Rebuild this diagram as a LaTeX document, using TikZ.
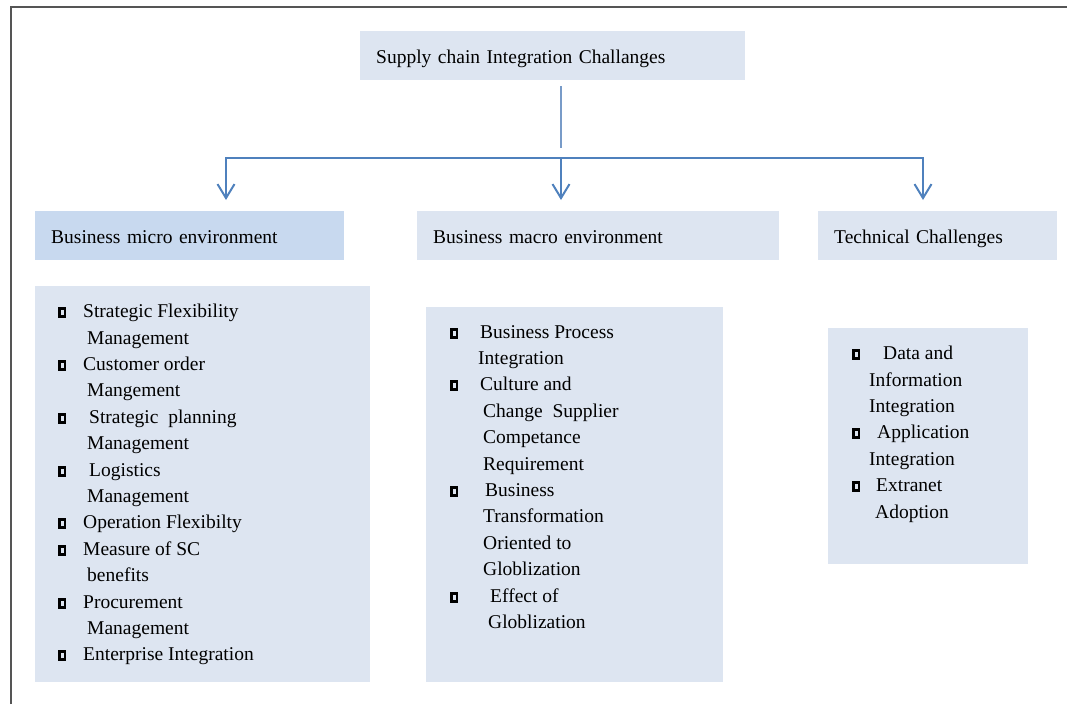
\documentclass[tikz,border=0pt]{standalone}
\usepackage{fontspec}
\setmainfont{Liberation Serif}
\usetikzlibrary{arrows.meta}
\definecolor{boxfill}{RGB}{221,229,241}
\definecolor{microfill}{RGB}{200,217,239}
\definecolor{linecol}{RGB}{79,129,189}
\definecolor{toplinecol}{RGB}{120,155,200}
\definecolor{framecol}{RGB}{85,85,85}
\newcommand{\sqb}{\makebox[0pt][l]{\rule[-0.5pt]{8pt}{11pt}}\hspace{2.6pt}{\color{boxfill}\rule[2.5pt]{2.8pt}{5pt}}\hspace{2.6pt}}
\newcommand{\bl}[2]{\makebox[#1pt][l]{\sqb}#2}
\newcommand{\cl}[2]{\hspace*{#1pt}#2}
\begin{document}
\begin{tikzpicture}[x=1pt,y=-1pt,
  hbox/.style={fill=boxfill, draw=none, anchor=north west, minimum height=49pt,
    inner xsep=16pt, inner ysep=0pt, align=left, text height=16.5pt, text depth=1.5pt,
    font=\fontsize{19.5}{23}\selectfont},
  listbox/.style={fill=boxfill, draw=none, anchor=north west, inner sep=0pt},
  listtext/.style={anchor=north west, inner sep=0pt, align=left,
    font=\fontsize{19.5}{26.4}\selectfont},
  conn/.style={draw=linecol, line width=2pt},
  arr/.style={conn, -{Straight Barb[length=14pt,width=17pt,line width=2pt]}, shorten >=11pt},
  topconn/.style={draw=toplinecol, line width=1.5pt},
  frame/.style={draw=framecol, line width=1.5pt}
]
\useasboundingbox (0,0) rectangle (1067,704);
\draw[frame] (11,704) -- (11,7) -- (1067,7);

\node[hbox, text width=353pt] (top) at (360,31) {Supply chain Integration Challanges};
\node[hbox, fill=microfill, text width=277pt] (micro) at (35,211) {Business micro environment};
\node[hbox, text width=330pt] (macro) at (417,211) {Business macro environment};
\node[hbox, text width=207pt] (tech) at (818,211) {Technical Challenges};

\node[listbox, minimum width=335pt, minimum height=396pt] (microbox) at (35,286) {};
\node[listbox, minimum width=297pt, minimum height=375pt] (macrobox) at (426,307) {};
\node[listbox, minimum width=200pt, minimum height=236pt] (techbox) at (828,328) {};

\node[listtext] (microlist) at (58,304) {%
\bl{25}{Strategic Flexibility}\\
\cl{29}{Management}\\
\bl{25}{Customer order}\\
\cl{29}{Mangement}\\
\bl{31}{Strategic\ \ planning}\\
\cl{29}{Management}\\
\bl{31}{Logistics}\\
\cl{29}{Management}\\
\bl{25}{Operation Flexibilty}\\
\bl{25}{Measure of SC}\\
\cl{29}{benefits}\\
\bl{25}{Procurement}\\
\cl{29}{Management}\\
\bl{25}{Enterprise Integration}};

\node[listtext] (macrolist) at (450,325) {%
\bl{30}{Business Process}\\
\cl{28}{Integration}\\
\bl{30}{Culture and}\\
\cl{33}{Change\ \ Supplier}\\
\cl{33}{Competance}\\
\cl{33}{Requirement}\\
\bl{35}{Business}\\
\cl{33}{Transformation}\\
\cl{33}{Oriented to}\\
\cl{33}{Globlization}\\
\bl{40}{Effect of}\\
\cl{38}{Globlization}};

\node[listtext] (techlist) at (852,346) {%
\bl{31}{Data and}\\
\cl{17}{Information}\\
\cl{17}{Integration}\\
\bl{25}{Application}\\
\cl{17}{Integration}\\
\bl{24}{Extranet}\\
\cl{23}{Adoption}};

\coordinate (hl) at (226,158);
\coordinate (hm) at (561,158);
\coordinate (hr) at (923,158);
\draw[topconn] ([xshift=8.5pt,yshift=-6pt]top.south) -- ++(0,62);
\draw[arr] (hm) -- (hl) -- (hl |- micro.north);
\draw[arr] (hm) -- (hm |- macro.north);
\draw[arr] (hm) -- (hr) -- (hr |- tech.north);
\end{tikzpicture}
\end{document}
